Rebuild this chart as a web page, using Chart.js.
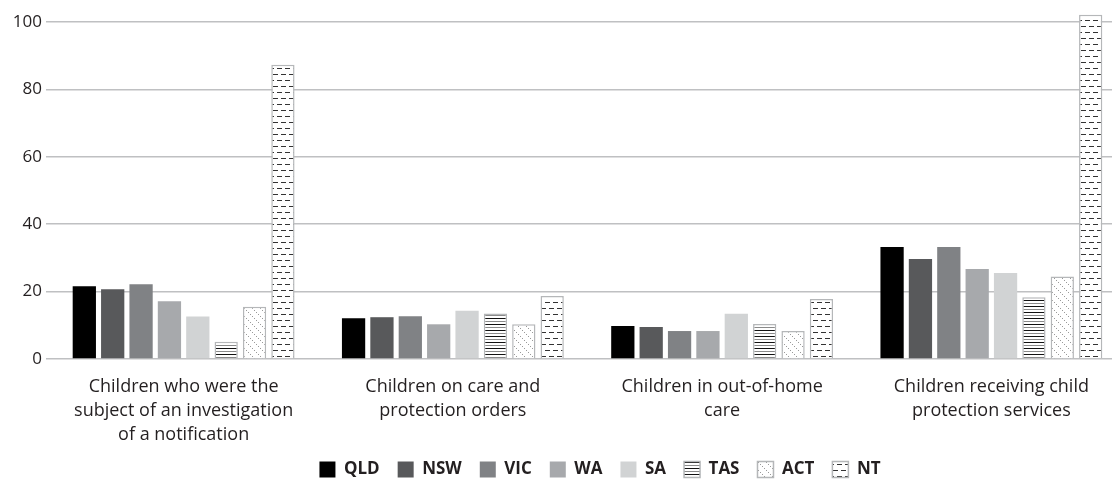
<!DOCTYPE html>
<html>
<head>
<meta charset="utf-8">
<script src="https://cdn.jsdelivr.net/npm/chart.js@4/dist/chart.umd.min.js"></script>
<style>
  html, body { margin: 0; padding: 0; background: #ffffff; overflow: hidden; }
  #wrap { width: 1126px; height: 480px; position: relative; }
</style>
</head>
<body>
<div id="wrap"><canvas id="c"></canvas></div>
<script>
// Rates per 1,000 children, by jurisdiction
const categories = [
  ['Children who were the', 'subject of an investigation', 'of a notification'],
  ['Children on care and', 'protection orders'],
  ['Children in out-of-home', 'care'],
  ['Children receiving child', 'protection services']
];
const jurisdictions = ['QLD', 'NSW', 'VIC', 'WA', 'SA', 'TAS', 'ACT', 'NT'];
const qld = [21.6, 12.1, 9.8, 33.2];
const nsw = [20.7, 12.4, 9.5, 29.7];
const vic = [22.2, 12.7, 8.3, 33.2];
const wa  = [17.1, 10.3, 8.3, 26.7];
const sa  = [12.6, 14.3, 13.4, 25.5];
const tas = [5.1, 13.5, 10.4, 18.3];
const act = [15.5, 10.3, 8.3, 24.5];
const nt  = [87.3, 18.7, 17.8, 102.1];
const yTicks = [0, 20, 40, 60, 80, 100];

const canvas = document.getElementById('c');
const ctx = canvas.getContext('2d');

// small repeating tiles for the hatched series
function makeTile(w, h, draw) {
  const t = document.createElement('canvas');
  t.width = w; t.height = h;
  const g = t.getContext('2d');
  g.fillStyle = '#ffffff';
  g.fillRect(0, 0, w, h);
  draw(g);
  return ctx.createPattern(t, 'repeat');
}
const stripes = makeTile(6, 6, g => {
  g.fillStyle = '#111111'; g.fillRect(0, 0, 6, 1);
  g.fillStyle = '#8a8a8a'; g.fillRect(0, 3, 6, 1);
});
const diagDots = makeTile(8, 8, g => {
  g.fillStyle = '#9a9a9a';
  for (let i = 0; i < 8; i += 2) g.fillRect(i, i, 1, 1);
});
const dashes = makeTile(8, 12, g => {
  g.fillStyle = '#333333';
  g.fillRect(1, 2, 5, 1);
  g.fillRect(5, 8, 3, 1);
  g.fillRect(0, 8, 2, 1);
});

const seriesValues = [qld, nsw, vic, wa, sa, tas, act, nt];
const fills = ['#000000', '#58595b', '#808285', '#a7a9ac', '#d1d3d4', stripes, diagDots, dashes];
const borders = [null, null, null, null, null, '#b5b7b9', '#b5b7b9', '#b5b7b9'];

const datasets = jurisdictions.map((name, i) => ({
  label: name,
  data: seriesValues[i],
  backgroundColor: fills[i],
  borderColor: borders[i] || fills[i],
  borderWidth: borders[i] ? 1.5 : 0,
  categoryPercentage: 0.843,
  barPercentage: 0.82
}));

// nudge the legend so it sits where the design places it
const legendShift = {
  id: 'legendShift',
  afterLayout(chart) {
    const lg = chart.legend;
    if (lg) {
      lg.left += 37; lg.right += 37;
      lg.top -= 20; lg.bottom -= 20;
    }
  }
};

new Chart(ctx, {
  type: 'bar',
  data: { labels: categories, datasets },
  plugins: [legendShift],
  options: {
    responsive: true,
    maintainAspectRatio: false,
    animation: false,
    layout: { padding: { top: 5, right: 0, bottom: -28, left: 0 } },
    plugins: {
      tooltip: { enabled: false },
      legend: {
        position: 'bottom',
        labels: {
          boxWidth: 16,
          boxHeight: 16,
          padding: 18,
          color: '#231f20',
          font: { family: '"Open Sans", sans-serif', size: 17, weight: 'bold' }
        }
      }
    },
    scales: {
      x: {
        grid: { display: false, drawTicks: false },
        border: { display: false },
        ticks: {
          color: '#231f20',
          padding: 16,
          maxRotation: 0,
          autoSkip: false,
          font: { family: '"Open Sans", sans-serif', size: 18, lineHeight: 1.333 }
        }
      },
      y: {
        min: 0,
        max: 105,
        afterFit(scale) {
          scale.width = 49;
          scale.paddingTop = 0;
          scale.paddingBottom = 0;
        },
        afterBuildTicks(scale) { scale.ticks = yTicks.map(v => ({ value: v })); },
        border: { display: false },
        grid: { color: '#bfc0c2', lineWidth: 1.5, tickLength: 3 },
        ticks: {
          color: '#231f20',
          padding: 4,
          font: { family: '"Open Sans", sans-serif', size: 17 }
        }
      }
    }
  }
});
</script>
</body>
</html>
